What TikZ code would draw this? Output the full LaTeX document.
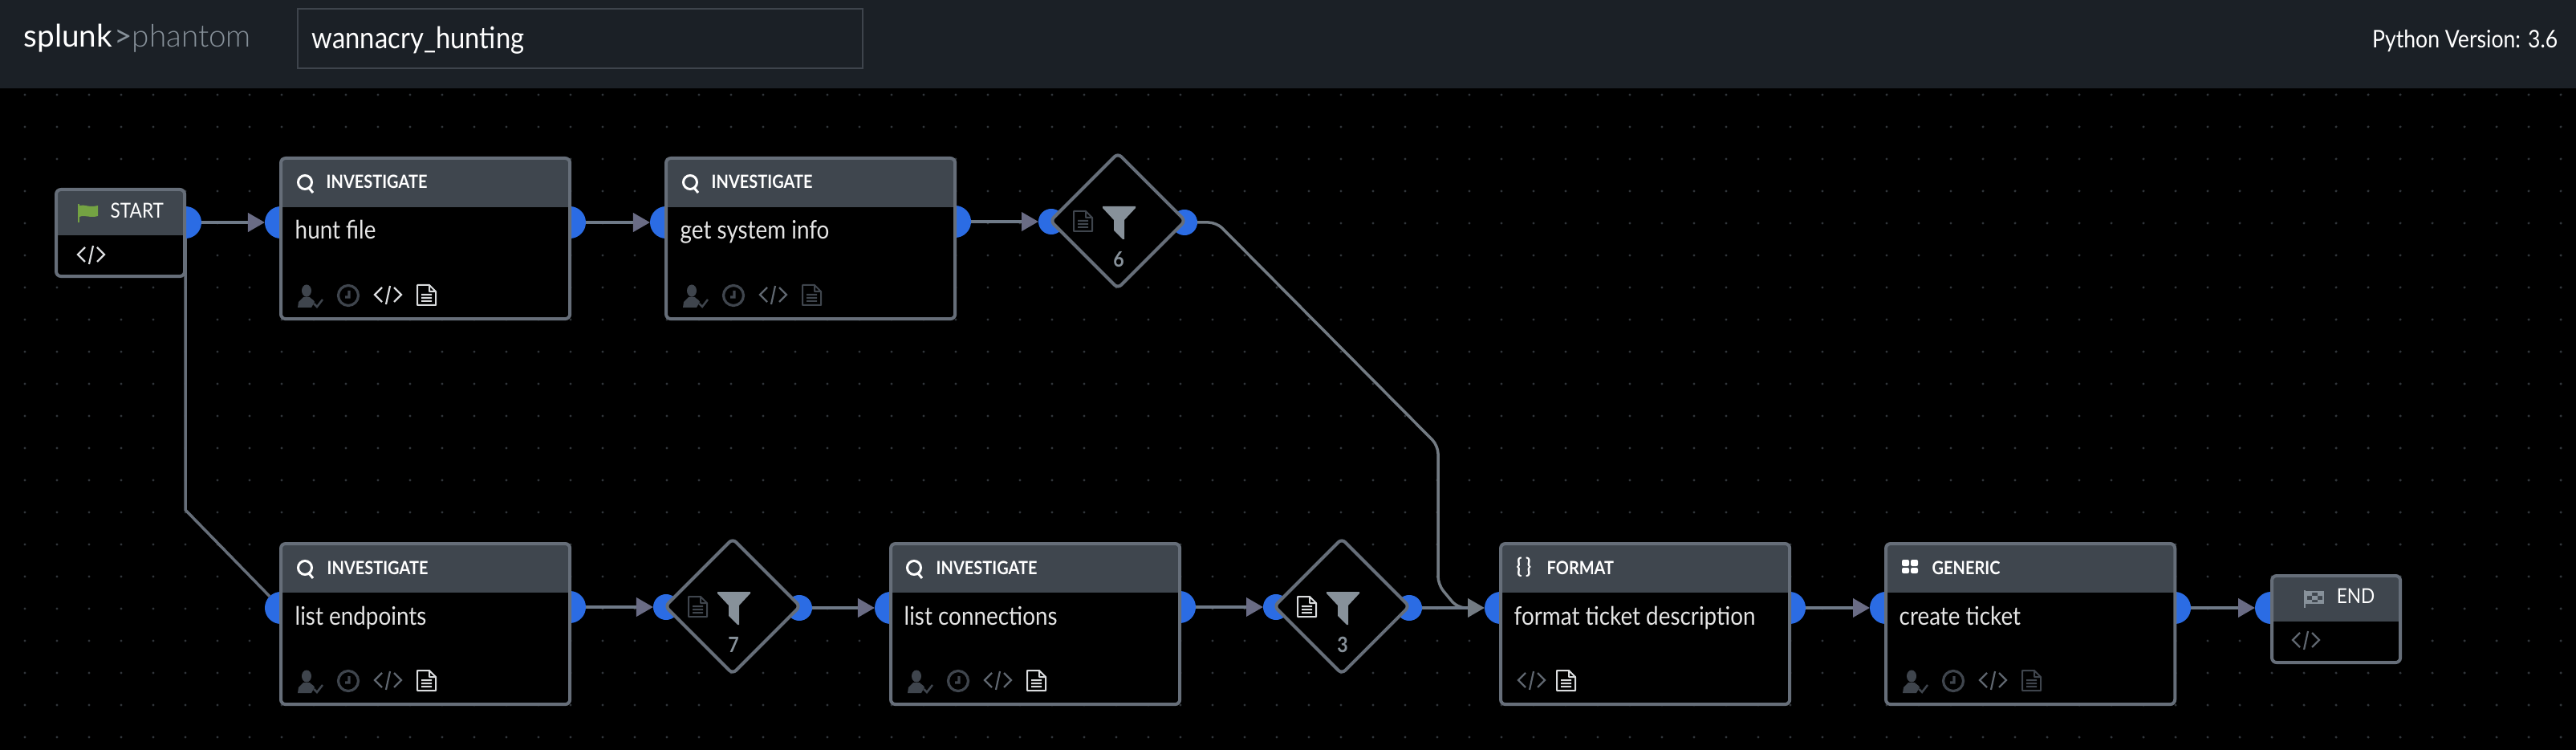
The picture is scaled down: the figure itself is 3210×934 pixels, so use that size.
\documentclass[tikz,border=0pt]{standalone}
\usepackage{fontspec}
\usetikzlibrary{arrows.meta,shapes.geometric}
\setmainfont[FakeStretch=0.88]{Lato}
\newfontfamily\logofont{Lato}
\newfontfamily\logothin{Lato Light}
\definecolor{barfill}{HTML}{1B2026}
\definecolor{barline}{HTML}{3E444C}
\definecolor{griddot}{HTML}{30353A}
\definecolor{boxline}{HTML}{666E79}
\definecolor{headfill}{HTML}{3F464E}
\definecolor{portblue}{HTML}{2B6CE4}
\definecolor{linkgray}{HTML}{6F7A88}
\definecolor{tipgray}{HTML}{6A6C85}
\definecolor{dimicon}{HTML}{3F454D}
\definecolor{midicon}{HTML}{5F666F}
\definecolor{liticon}{HTML}{DADCDE}
\definecolor{funnelgray}{HTML}{87919A}
\definecolor{flaggreen}{HTML}{74A343}
\begin{document}
\begin{tikzpicture}[x=0.01cm,y=-0.01cm,
    block/.style={draw=boxline,fill=black,line width=0.04cm,rounded corners=0.06cm,outer sep=0pt,inner sep=0pt,anchor=north west,
      path picture={\fill[headfill,sharp corners] (path picture bounding box.north west) rectangle ([yshift=-#1]path picture bounding box.north east);}},
    action/.style={block=0.61cm,minimum width=3.6cm,minimum height=2cm},
    terminal/.style={block=0.57cm,minimum width=1.6cm,minimum height=1.08cm},
    filterbox/.style={diamond,draw=boxline,fill=black,line width=0.04cm,rounded corners=0.06cm,aspect=1,minimum width=1.68cm,minimum height=1.68cm,inner sep=0pt,outer sep=0pt},
    port/.style={circle,fill=portblue,minimum size=0.4cm,inner sep=0pt,outer sep=0pt},
    smallport/.style={circle,fill=portblue,minimum size=0.32cm,inner sep=0pt,outer sep=0pt},
    link/.style={color=linkgray,line width=0.04cm,-{Triangle[length=0.21cm,width=0.23cm,color=tipgray]}},
    headtext/.style={anchor=base west,inner sep=0pt,text=white,font=\bfseries\fontsize{6.45}{8}\selectfont},
    endtext/.style={anchor=base west,inner sep=0pt,text=white,font=\fontsize{7.3}{9}\selectfont},
    bodytext/.style={anchor=base west,inner sep=0pt,text=white!90!black,font=\fontsize{9}{11}\selectfont},
    countlabel/.style={inner sep=0pt,text=funnelgray,font=\bfseries\fontsize{7.5}{9}\selectfont},
    pics/codeicon/.style={code={\draw[#1,line width=0.022cm] (9,2)--(0,11)--(9,20) (24,2)--(33,11)--(24,20) (19,0)--(14,23);}},
    pics/docicon/.style={code={\draw[#1,line width=0.02cm,line join=round] (0,0)--(15,0)--(23,8)--(23,25)--(0,25)--cycle (15,0)--(15,8)--(23,8) (5,12)--(18,12) (5,16)--(18,16) (5,20)--(18,20);}},
    pics/clockicon/.style={code={\draw[dimicon,line width=0.032cm] (0,0) circle (12.5) (1,-6)--(1,2)--(-4,2);}},
    pics/personicon/.style={code={\fill[dimicon] (11,7) ellipse (6 and 7.5) (0,28)--(1,21)..controls (3,18) and (6,17) ..(7,15)--(15,15)..controls (16,17) and (20,18) ..(21,21)--(17,28)--cycle;
      \draw[dimicon,line width=0.025cm] (20,23)--(24,27)--(31,18);}},
    pics/searchicon/.style={code={\draw[white,line width=0.03cm] (10,9) circle (8.5) (15,16)--(20,22);}},
    pics/funnelicon/.style={code={\fill[funnelgray] (0,0)--(41,0)--(41,2)--(27,17)--(27,41)--(25,41)--(14,30)--(14,17)--(0,2)--cycle;}}]
  % page
  \fill[black] (0,0) rectangle (3210,934);
  \useasboundingbox (0,0) rectangle (3210,934);
  \foreach \dotx in {31,71,...,3191}
    \foreach \doty in {118,158,...,918}
      \fill[griddot] (\dotx,\doty) circle (1.7);
  % top bar
  \fill[barfill] (0,0) rectangle (3210,110);
  \draw[barline,line width=0.025cm] (371,11) rectangle (1075,85);
  \node[anchor=base west,inner sep=0pt,text=white,font=\logofont\fontsize{11}{13}\selectfont] (logosplunk) at (29,59) {splunk};
  \node[anchor=base west,inner sep=0pt,text=funnelgray,font=\logofont\fontsize{11}{13}\selectfont] (logomark) at (142,59) {>};
  \node[anchor=base west,inner sep=0pt,text=funnelgray,font=\logothin\fontsize{11}{13}\selectfont] (logophantom) at (164,59) {phantom};
  \node[anchor=base west,inner sep=0pt,text=white,font=\fontsize{10.6}{13}\selectfont] (playbookname) at (388,61) {wannacry\_hunting};
  \node[anchor=base east,inner sep=0pt,text=white,font=\fontsize{8.6}{11}\selectfont] (pythonversion) at (3188,60) {Python Version: 3.6};
  % ports
  \node[port] (startout) at (231,277) {};
  \node[port] (huntin) at (350,277) {};
  \node[port] (huntout) at (710,277) {};
  \node[port] (sysin) at (830,277) {};
  \node[port] (sysout) at (1190,276) {};
  \node[smallport] (filtersixin) at (1310,276) {};
  \node[smallport] (filtersixout) at (1476,277) {};
  \node[port] (endpointsin) at (350,757) {};
  \node[port] (endpointsout) at (710,756) {};
  \node[smallport] (filtersevenin) at (830,756) {};
  \node[smallport] (filtersevenout) at (996,757) {};
  \node[port] (connectionsin) at (1110,757) {};
  \node[port] (connectionsout) at (1470,756) {};
  \node[smallport] (filterthreein) at (1590,756) {};
  \node[smallport] (filterthreeout) at (1756,757) {};
  \node[port] (formatin) at (1870,757) {};
  \node[port] (formatout) at (2230,757) {};
  \node[port] (ticketin) at (2350,757) {};
  \node[port] (ticketout) at (2710,757) {};
  \node[port] (endin) at (2830,757) {};
  % bend points
  \coordinate (sixbendone) at (1516,277);
  \coordinate (sixbendtwo) at (1792,555);
  \coordinate (sixbendthree) at (1792,728);
  \coordinate (startbendone) at (231,635);
  % links
  \draw[link] (startout) -- (huntin);
  \draw[link] (huntout) -- (sysin);
  \draw[link] (sysout) -- (filtersixin);
  \draw[link,color=boxline,line width=0.035cm,-] (startout) -- (startbendone) [rounded corners=0.1cm] -- (endpointsin);
  \draw[link] (endpointsout) -- (filtersevenin);
  \draw[link] (filtersevenout) -- (connectionsin);
  \draw[link] (connectionsout) -- (filterthreein);
  \draw[link,color=funnelgray!85!black,line width=0.035cm,-] (filtersixout) [rounded corners=0.1cm] -- (sixbendone) -- (sixbendtwo) -- (sixbendthree) -- (1816,757) -- (1835,757);
  \draw[link,-{Triangle[length=0.21cm,width=0.23cm,color=funnelgray!85!black]}] (filterthreeout) -- (formatin);
  \draw[link] (formatout) -- (ticketin);
  \draw[link] (ticketout) -- (endin);
  % boxes
  \node[terminal] (start) at (70,236) {};
  \node[action] (huntfile) at (350,197) {};
  \node[action] (systeminfo) at (830,197) {};
  \node[filterbox] (filtersix) at (1393,275) {};
  \node[action] (endpoints) at (350,677) {};
  \node[filterbox] (filterseven) at (913,755) {};
  \node[action] (connections) at (1110,677) {};
  \node[filterbox] (filterthree) at (1672,755) {};
  \node[action] (format) at (1870,677) {};
  \node[action] (ticket) at (2350,677) {};
  \node[terminal] (finish) at (2831,717) {};
  % start
  \fill[flaggreen] (97,254) rectangle (99,277);
  \fill[flaggreen] (99,256)..controls (106,254) and (110,259) ..(122,256)--(122,269)..controls (112,272) and (106,267) ..(99,270)--cycle;
  \node[endtext] (startlabel) at (137,272) {START};
  \pic at (97,306) {codeicon=liticon};
  % hunt file
  \pic at (370,218) {searchicon};
  \node[headtext] (huntfilehead) at (406,235) {INVESTIGATE};
  \node[bodytext] (huntfilelabel) at (367,298) {hunt file};
  \pic at (371,355) {personicon};
  \pic at (434,368) {clockicon};
  \pic at (467,356) {codeicon=liticon};
  \pic at (520,355) {docicon=liticon};
  % get system info
  \pic at (850,218) {searchicon};
  \node[headtext] (systeminfohead) at (886,235) {INVESTIGATE};
  \node[bodytext] (systeminfolabel) at (847,298) {get system info};
  \pic at (851,355) {personicon};
  \pic at (914,368) {clockicon};
  \pic at (947,356) {codeicon=midicon};
  \pic at (1000,355) {docicon=dimicon};
  % filters
  \pic at (1338,263) {docicon=dimicon};
  \pic at (1374,257) {funnelicon};
  \node[countlabel] (filtersixcount) at (1394,323) {6};
  \pic at (858,743) {docicon=dimicon};
  \pic at (894,737) {funnelicon};
  \node[countlabel] (filtersevencount) at (914,803) {7};
  \pic at (1617,743) {docicon=liticon};
  \pic at (1653,737) {funnelicon};
  \node[countlabel] (filterthreecount) at (1673,803) {3};
  % list endpoints
  \pic at (370,698) {searchicon};
  \node[headtext] (endpointshead) at (407,715) {INVESTIGATE};
  \node[bodytext] (endpointslabel) at (367,778) {list endpoints};
  \pic at (371,835) {personicon};
  \pic at (434,848) {clockicon};
  \pic at (467,836) {codeicon=midicon};
  \pic at (520,835) {docicon=liticon};
  % list connections
  \pic at (1129,698) {searchicon};
  \node[headtext] (connectionshead) at (1166,715) {INVESTIGATE};
  \node[bodytext] (connectionslabel) at (1126,778) {list connections};
  \pic at (1131,835) {personicon};
  \pic at (1194,848) {clockicon};
  \pic at (1227,836) {codeicon=midicon};
  \pic at (1280,835) {docicon=liticon};
  % format ticket description
  \node[headtext,font=\bfseries\fontsize{7.5}{9}\selectfont] (formatbrace) at (1889,714) {\{\,\}};
  \node[headtext] (formathead) at (1927,715) {FORMAT};
  \node[bodytext] (formatlabel) at (1886,778) {format ticket description};
  \pic at (1892,836) {codeicon=midicon};
  \pic at (1940,835) {docicon=liticon};
  % create ticket
  \fill[white,rounded corners=0.02cm] (2370,697) rectangle (2379,705) (2381,697) rectangle (2390,705) (2370,707) rectangle (2379,714) (2381,707) rectangle (2390,714);
  \node[headtext] (tickethead) at (2407,715) {GENERIC};
  \node[bodytext] (ticketlabel) at (2366,778) {create ticket};
  \pic at (2371,835) {personicon};
  \pic at (2434,848) {clockicon};
  \pic at (2467,836) {codeicon=midicon};
  \pic at (2520,835) {docicon=dimicon};
  % end
  \fill[funnelgray] (2871,735) rectangle (2873,757);
  \draw[funnelgray,line width=0.012cm] (2874,737) rectangle (2895,751);
  \fill[funnelgray] (2874,737) rectangle (2881,742) (2888,737) rectangle (2895,742) (2881,742) rectangle (2888,747) (2874,747) rectangle (2881,751) (2888,747) rectangle (2895,751);
  \node[endtext] (finishlabel) at (2911,751) {END};
  \pic at (2857,786) {codeicon=midicon};
\end{tikzpicture}
\end{document}
